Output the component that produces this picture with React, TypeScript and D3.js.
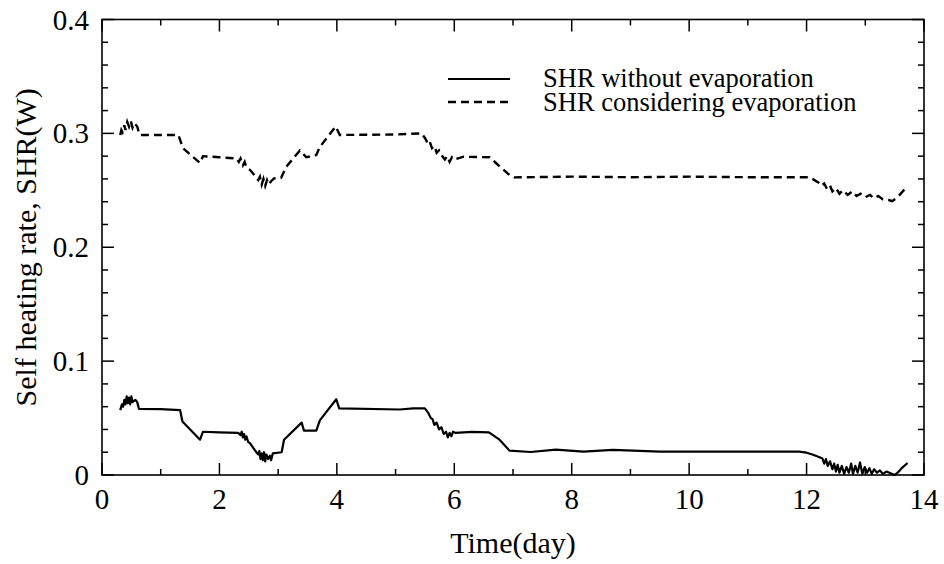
import React from "react";
import * as d3 from "d3";

// Time (day) and SHR (W) readings
const withoutEvapT = [0.31,0.34,0.36,0.38,0.40,0.42,0.44,0.46,0.48,0.50,0.52,0.54,0.57,0.60,0.63,1.00,1.33,1.37,1.67,1.72,2.00,2.32,2.36,2.38,2.40,2.42,2.44,2.46,2.49,2.52,2.60,2.66,2.68,2.70,2.72,2.74,2.76,2.78,2.80,2.83,2.86,2.88,2.91,3.06,3.10,3.40,3.44,3.65,3.71,3.99,4.04,5.07,5.30,5.50,5.55,5.60,5.63,5.66,5.70,5.74,5.78,5.82,5.86,5.89,5.92,5.95,5.98,6.02,6.30,6.59,6.77,6.94,7.3,7.73,8.2,8.7,9.5,11.0,11.87,12.0,12.1,12.2,12.27,12.3,12.33,12.36,12.40,12.44,12.47,12.50,12.53,12.56,12.60,12.64,12.68,12.72,12.76,12.79,12.83,12.87,12.91,12.95,12.99,13.03,13.07,13.11,13.15,13.20,13.25,13.30,13.36,13.45,13.50,13.55,13.62,13.72];
const withoutEvapV = [0.057,0.062,0.060,0.066,0.062,0.069,0.063,0.068,0.062,0.069,0.064,0.065,0.066,0.064,0.058,0.0578,0.057,0.047,0.031,0.038,0.0375,0.037,0.035,0.038,0.033,0.036,0.031,0.034,0.029,0.028,0.022,0.018,0.021,0.014,0.019,0.013,0.020,0.012,0.018,0.014,0.017,0.013,0.019,0.020,0.031,0.046,0.039,0.039,0.048,0.0665,0.0585,0.0575,0.0585,0.0585,0.055,0.050,0.049,0.044,0.046,0.040,0.042,0.036,0.038,0.033,0.037,0.034,0.038,0.037,0.0378,0.0375,0.031,0.0214,0.0202,0.0222,0.0205,0.022,0.0205,0.0205,0.0205,0.0196,0.018,0.016,0.0145,0.010,0.014,0.008,0.012,0.005,0.010,0.003,0.009,0.002,0.008,0.001,0.007,0.002,0.010,0.001,0.008,0.002,0.011,0.001,0.007,0.002,0.006,0.001,0.005,0.002,0.004,0.001,0.003,0.001,0.000,0.002,0.006,0.0105];

const withEvapT = [0.31,0.33,0.35,0.38,0.40,0.43,0.46,0.49,0.52,0.55,0.60,0.64,1.0,1.30,1.38,1.67,1.72,2.0,2.29,2.33,2.36,2.40,2.43,2.46,2.52,2.60,2.66,2.69,2.72,2.75,2.78,2.81,2.84,2.88,2.93,3.05,3.14,3.37,3.48,3.65,3.71,3.98,4.05,5.0,5.44,5.50,5.55,5.58,5.62,5.66,5.70,5.74,5.80,5.84,5.88,5.92,5.96,6.0,6.16,6.6,6.71,6.94,7.02,8.0,9.0,10.0,11.0,12.04,12.1,12.2,12.25,12.30,12.35,12.40,12.44,12.50,12.56,12.62,12.70,12.78,12.85,12.92,13.0,13.08,13.15,13.22,13.30,13.40,13.46,13.55,13.69];
const withEvapV = [0.2986,0.303,0.301,0.307,0.303,0.310,0.306,0.311,0.305,0.309,0.306,0.2986,0.2986,0.2986,0.287,0.274,0.280,0.279,0.278,0.275,0.278,0.272,0.275,0.270,0.268,0.263,0.259,0.262,0.255,0.260,0.254,0.259,0.255,0.258,0.2605,0.261,0.2707,0.285,0.279,0.281,0.288,0.306,0.2986,0.299,0.300,0.296,0.291,0.293,0.287,0.289,0.283,0.285,0.2796,0.277,0.280,0.275,0.279,0.277,0.2795,0.279,0.274,0.2634,0.2614,0.262,0.2615,0.262,0.2615,0.2615,0.260,0.257,0.254,0.256,0.251,0.254,0.249,0.252,0.247,0.250,0.246,0.249,0.245,0.247,0.244,0.246,0.243,0.245,0.242,0.2415,0.2405,0.244,0.252];

const xMajorTicks = [0, 2, 4, 6, 8, 10, 12, 14];
const xMinorTicks = [1, 3, 5, 7, 9, 11, 13];
const yMajorTicks = [0, 0.1, 0.2, 0.3, 0.4];
const yTickLabels = ["0", "0.1", "0.2", "0.3", "0.4"];
const yMinorTicks = [0.02, 0.04, 0.06, 0.08, 0.12, 0.14, 0.16, 0.18, 0.22, 0.24, 0.26, 0.28, 0.32, 0.34, 0.36, 0.38];
const legendLabels = ["SHR without evaporation", "SHR considering evaporation"];

const W = 944, H = 564;
const L = 102, R = 924, T = 19.5, B = 475;
const FONT = "Liberation Serif, Tinos, Times New Roman, DejaVu Serif, serif";

export default function App() {
  const x = d3.scaleLinear().domain([0, 14]).range([L, R]);
  const y = d3.scaleLinear().domain([0, 0.4]).range([B, T]);
  const line = d3.line<[number, number]>().x(d => x(d[0])).y(d => y(d[1]));
  const s1 = withoutEvapT.map((t, i) => [t, withoutEvapV[i]] as [number, number]);
  const s2 = withEvapT.map((t, i) => [t, withEvapV[i]] as [number, number]);
  const major = 12, minor = 6;
  return (
    <svg width={W} height={H} style={{ position: "absolute", left: 0, top: 0, background: "#fff", fontFamily: FONT }}>
      <rect x={0} y={0} width={W} height={H} fill="#fff" />
      {/* ticks */}
      <g stroke="#000" strokeWidth={1.5}>
        {xMajorTicks.map(v => (
          <g key={"xM" + v}>
            <line x1={x(v)} x2={x(v)} y1={B} y2={B - major} />
            <line x1={x(v)} x2={x(v)} y1={T} y2={T + major} />
          </g>
        ))}
        {xMinorTicks.map(v => (
          <g key={"xm" + v}>
            <line x1={x(v)} x2={x(v)} y1={B} y2={B - minor} />
            <line x1={x(v)} x2={x(v)} y1={T} y2={T + minor} />
          </g>
        ))}
        {yMajorTicks.map(v => (
          <g key={"yM" + v}>
            <line x1={L} x2={L + major} y1={y(v)} y2={y(v)} />
            <line x1={R} x2={R - major} y1={y(v)} y2={y(v)} />
          </g>
        ))}
        {yMinorTicks.map(v => (
          <g key={"ym" + v}>
            <line x1={L} x2={L + minor} y1={y(v)} y2={y(v)} />
            <line x1={R} x2={R - minor} y1={y(v)} y2={y(v)} />
          </g>
        ))}
      </g>
      <rect x={L} y={T} width={R - L} height={B - T} fill="none" stroke="#000" strokeWidth={1.6} />
      {/* series */}
      <path d={line(s1) || ""} fill="none" stroke="#000" strokeWidth={2.2} strokeLinejoin="round" />
      <path d={line(s2) || ""} fill="none" stroke="#000" strokeWidth={2.4} strokeDasharray="8 5" />
      {/* tick labels */}
      <g fontSize={29} fill="#000">
        {xMajorTicks.map(v => (
          <text key={"xl" + v} x={x(v)} y={509} textAnchor="middle">{v}</text>
        ))}
        {yMajorTicks.map((v, i) => (
          <text key={"yl" + v} x={89} y={y(v) + 10} textAnchor="end">{yTickLabels[i]}</text>
        ))}
      </g>
      <text x={(L + R) / 2} y={553} textAnchor="middle" fontSize={30}>Time(day)</text>
      <text transform={`translate(36,${(T + B) / 2}) rotate(-90)`} textAnchor="middle" fontSize={30}>Self heating rate, SHR(W)</text>
      {/* legend */}
      <line x1={448} x2={510} y1={79} y2={79} stroke="#000" strokeWidth={2.2} />
      <line x1={448} x2={510} y1={102} y2={102} stroke="#000" strokeWidth={2.4} strokeDasharray="8 5" />
      <text x={543} y={87} fontSize={26.5}>{legendLabels[0]}</text>
      <text x={543} y={111} fontSize={26.5}>{legendLabels[1]}</text>
    </svg>
  );
}
